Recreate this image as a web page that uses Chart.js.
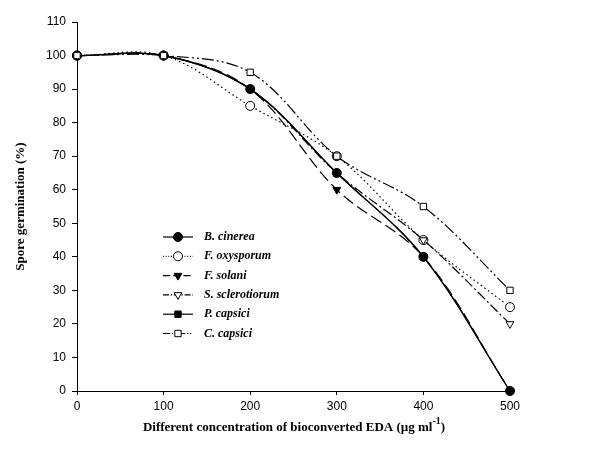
<!DOCTYPE html>
<html lang="en">
<head>
<meta charset="UTF-8" />
<title>Spore germination</title>
<script src="https://cdn.jsdelivr.net/npm/chart.js"></script>
<style>
  * { margin: 0; padding: 0; box-sizing: border-box; }
  body { background: #ffffff; }
  #wrap { width: 616px; height: 459px; position: relative; }
</style>
</head>
<body>
<div id="wrap"><canvas id="chart"></canvas></div>
<script>
// concentrations (ug/ml) and germination (%) per fungus
const concentrations = [0, 100, 200, 300, 400, 500];
const bCinerea      = [100, 100, 90, 65, 40, 0];
const fOxysporum    = [100, 100, 85, 70, 45, 25];
const fSolani       = [100, 100, 90, 60, 40, 0];
const sSclerotiorum = [100, 100, 90, 65, 45, 20];
const pCapsici      = [100, 100, 90, 65, 40, 0];
const cCapsici      = [100, 100, 95, 70, 55, 30];
const yTicks = [0, 10, 20, 30, 40, 50, 60, 70, 80, 90, 100, 110];

const toPoints = arr => arr.map((v, i) => ({ x: concentrations[i], y: v }));

// order: lower value is drawn on top
const series = [
  { label: 'B. cinerea',      data: bCinerea,      style: 'circle',   fill: true,  dash: [],               order: 1 },
  { label: 'F. oxysporum',    data: fOxysporum,    style: 'circle',   fill: false, dash: [1.5, 3],         order: 3 },
  { label: 'F. solani',       data: fSolani,       style: 'triangle', fill: true,  dash: [12, 5], rot: 180, order: 4 },
  { label: 'S. sclerotiorum', data: sSclerotiorum, style: 'triangle', fill: false, dash: [10, 3, 2, 3], rot: 180, order: 2 },
  { label: 'P. capsici',      data: pCapsici,      style: 'rect',     fill: true,  dash: [],               order: 5 },
  { label: 'C. capsici',      data: cCapsici,      style: 'rect',     fill: false, dash: [12, 3, 2, 3, 2, 3], order: 0 }
];

const datasets = series.map(s => ({
  label: s.label,
  data: toPoints(s.data),
  order: s.order,
  clip: false,
  borderColor: '#000',
  borderWidth: 1.2,
  borderDash: s.dash,
  tension: 0.35,
  pointStyle: s.style,
  pointRotation: s.rot || 0,
  pointRadius: 4.5,
  pointBackgroundColor: s.fill ? '#000' : '#fff',
  pointBorderColor: '#000',
  pointBorderWidth: 1
}));

// legend inside plot + axis titles with superscript
const extras = {
  id: 'extras',
  afterDraw(chart) {
    const ctx = chart.ctx;
    const area = chart.chartArea;
    ctx.save();
    // legend
    const x0 = 163, y0 = 237, rowH = 19.3;
    series.forEach((s, i) => {
      const y = y0 + i * rowH;
      ctx.strokeStyle = '#000';
      ctx.lineWidth = 1.2;
      ctx.setLineDash(s.dash.length ? s.dash.map(d => d * 0.6) : []);
      ctx.beginPath();
      ctx.moveTo(x0, y);
      ctx.lineTo(x0 + 30, y);
      ctx.stroke();
      ctx.setLineDash([]);
      ctx.fillStyle = s.fill ? '#000' : '#fff';
      ctx.lineWidth = 1;
      Chart.helpers.drawPoint(ctx, { pointStyle: s.style, rotation: s.rot || 0, radius: 4.5, borderWidth: 1 }, x0 + 15, y);
      ctx.fillStyle = '#000';
      ctx.font = 'italic bold 12px "Liberation Serif"';
      ctx.textBaseline = 'middle';
      ctx.textAlign = 'left';
      ctx.fillText(s.label, x0 + 41, y);
    });
    // y title
    ctx.save();
    ctx.translate(21, (area.top + area.bottom) / 2);
    ctx.rotate(-Math.PI / 2);
    ctx.font = 'bold 13px "Liberation Serif"';
    ctx.textAlign = 'center';
    ctx.textBaseline = 'middle';
    ctx.fillText('Spore germination (%)', 0, 0);
    ctx.restore();
    // x title
    const main = 'Different concentration of bioconverted EDA (\u00b5g ml';
    ctx.font = 'bold 13px "Liberation Serif"';
    const w1 = ctx.measureText(main).width;
    ctx.font = 'bold 10px "Liberation Serif"';
    const w2 = ctx.measureText('-1').width;
    ctx.font = 'bold 13px "Liberation Serif"';
    const w3 = ctx.measureText(')').width;
    let x = 294 - (w1 + w2 + w3) / 2;
    const yb = 431;
    ctx.textAlign = 'left';
    ctx.textBaseline = 'alphabetic';
    ctx.fillText(main, x, yb);
    x += w1;
    ctx.font = 'bold 10px "Liberation Serif"';
    ctx.fillText('-1', x, yb - 7);
    x += w2;
    ctx.font = 'bold 13px "Liberation Serif"';
    ctx.fillText(')', x, yb);
    ctx.restore();
  }
};

new Chart(document.getElementById('chart'), {
  type: 'line',
  data: { datasets },
  plugins: [extras],
  options: {
    responsive: true,
    maintainAspectRatio: false,
    animation: false,
    layout: { padding: { top: 22, right: 106, left: 0, bottom: 0 } },
    plugins: { legend: { display: false }, tooltip: { enabled: false } },
    scales: {
      x: {
        type: 'linear',
        min: 0, max: 500,
        afterFit(scale) { scale.height = 68; },
        ticks: { stepSize: 100, color: '#000', font: { family: 'Liberation Sans', size: 12 }, padding: 4 },
        grid: { display: true, drawOnChartArea: false, drawTicks: true, tickLength: 4, color: '#000' },
        border: { display: true, color: '#000', width: 1 }
      },
      y: {
        min: 0, max: 110,
        afterFit(scale) { scale.width = 77; },
        afterBuildTicks(scale) { scale.ticks = yTicks.map(v => ({ value: v })); },
        ticks: { color: '#000', font: { family: 'Liberation Sans', size: 12 }, padding: 6 },
        grid: { display: true, drawOnChartArea: false, drawTicks: true, tickLength: 5, color: '#000' },
        border: { display: true, color: '#000', width: 1 }
      }
    }
  }
});
</script>
</body>
</html>
